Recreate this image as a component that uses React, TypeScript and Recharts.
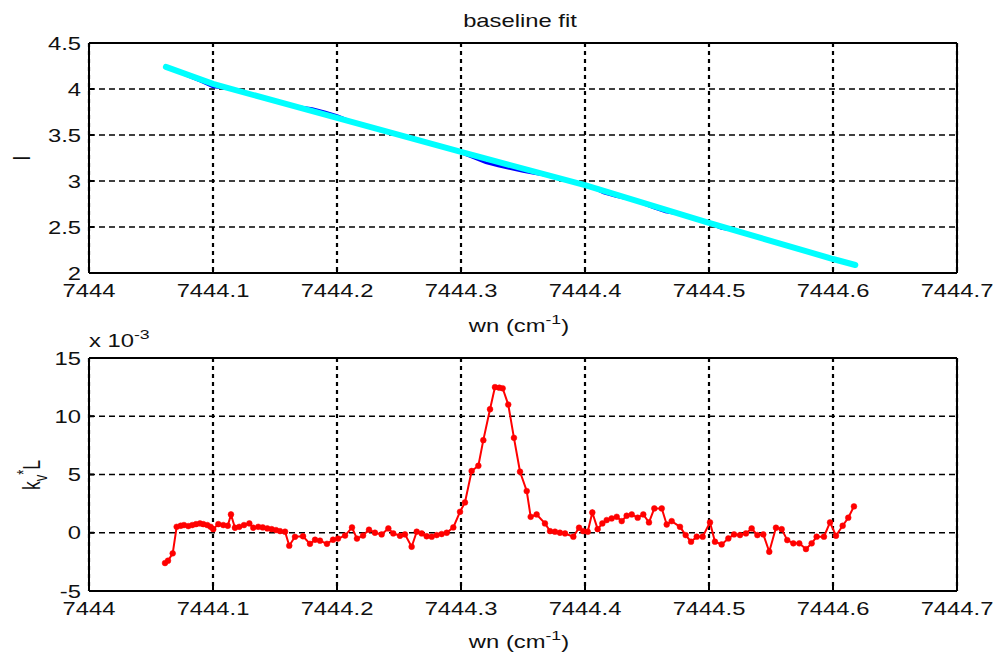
import { LineChart, Line, XAxis, YAxis, CartesianGrid } from "recharts";

// x axis (wavenumber) ticks shared by both panels
const wnTicks = [7444, 7444.1, 7444.2, 7444.3, 7444.4, 7444.5, 7444.6, 7444.7];
const iTicks = [2, 2.5, 3, 3.5, 4, 4.5];
const kTicks = [-5, 0, 5, 10, 15];

// top panel: baseline fit (cyan)
const fitWn = [7444.062, 7444.1, 7444.2, 7444.3, 7444.4, 7444.5, 7444.6, 7444.618];
const fitI = [4.24, 4.055, 3.685, 3.316, 2.955, 2.546, 2.152, 2.087];

// top panel: measured intensity (blue)
const measWn = [
  7444.062, 7444.07, 7444.08, 7444.09, 7444.1, 7444.11, 7444.13, 7444.15, 7444.17, 7444.18,
  7444.19, 7444.2, 7444.21, 7444.24, 7444.27, 7444.295, 7444.31, 7444.32, 7444.33, 7444.34,
  7444.35, 7444.36, 7444.37, 7444.39, 7444.405, 7444.415, 7444.425, 7444.44, 7444.455, 7444.465,
  7444.475, 7444.495, 7444.51, 7444.52, 7444.55, 7444.58, 7444.6, 7444.618,
];
const measI = [
  4.25, 4.2, 4.14, 4.085, 4.025, 4.01, 3.945, 3.87, 3.805, 3.785,
  3.75, 3.71, 3.655, 3.537, 3.427, 3.334, 3.255, 3.2, 3.165, 3.135,
  3.105, 3.08, 3.06, 2.99, 2.935, 2.87, 2.835, 2.79, 2.71, 2.665,
  2.645, 2.566, 2.485, 2.465, 2.349, 2.23, 2.152, 2.087,
];

// bottom panel: k_v*L (x 10^-3)
const kWn = [
  7444.0613, 7444.0637, 7444.0675, 7444.0707, 7444.074, 7444.0766, 7444.0801, 7444.0833, 7444.0863, 7444.0895,
  7444.0922, 7444.0954, 7444.0981, 7444.1002, 7444.1043, 7444.1083, 7444.1119, 7444.1145, 7444.1177, 7444.1212,
  7444.125, 7444.1293, 7444.1325, 7444.1365, 7444.1401, 7444.1438, 7444.1473, 7444.1508, 7444.154, 7444.1581,
  7444.1615, 7444.1661, 7444.1726, 7444.1782, 7444.1823, 7444.1863, 7444.1919, 7444.1968, 7444.2008, 7444.2065,
  7444.2121, 7444.2161, 7444.221, 7444.2258, 7444.2306, 7444.236, 7444.2414, 7444.2454, 7444.2508, 7444.2548,
  7444.2602, 7444.2643, 7444.2683, 7444.2723, 7444.2764, 7444.2804, 7444.2844, 7444.2885, 7444.2938, 7444.2992,
  7444.3032, 7444.3086, 7444.314, 7444.318, 7444.3234, 7444.3274, 7444.3309, 7444.3336, 7444.3381, 7444.3427,
  7444.3476, 7444.353, 7444.3562, 7444.361, 7444.3677, 7444.3718, 7444.3758, 7444.3798, 7444.3839, 7444.3906,
  7444.3952, 7444.3986, 7444.4022, 7444.4059, 7444.4102, 7444.414, 7444.4175, 7444.4215, 7444.4256, 7444.4296,
  7444.4336, 7444.4377, 7444.4425, 7444.447, 7444.4516, 7444.4559, 7444.4619, 7444.4659, 7444.4699, 7444.4766,
  7444.4812, 7444.4855, 7444.4901, 7444.4949, 7444.5008, 7444.5048, 7444.5102, 7444.5156, 7444.5202, 7444.525,
  7444.5298, 7444.5344, 7444.539, 7444.5438, 7444.5486, 7444.554, 7444.5586, 7444.5631, 7444.568, 7444.5728,
  7444.5782, 7444.5828, 7444.5868, 7444.5927, 7444.5976, 7444.6024, 7444.6078, 7444.6123, 7444.6169,
];
const kL = [
  -2.6, -2.4, -1.77, 0.51, 0.6, 0.66, 0.57, 0.66, 0.74, 0.8,
  0.74, 0.66, 0.51, 0.31, 0.74, 0.66, 0.6, 1.57, 0.43, 0.51,
  0.66, 0.8, 0.43, 0.51, 0.46, 0.37, 0.31, 0.23, 0.14, 0.09,
  -1.11, -0.35, -0.3, -0.95, -0.6, -0.68, -0.95, -0.6, -0.5, -0.24,
  0.45, -0.5, -0.24, 0.26, 0.0, -0.14, 0.37, -0.06, -0.26, -0.14,
  -1.2, 0.09, -0.06, -0.3, -0.34, -0.2, -0.11, 0.0, 0.46, 1.8,
  2.6, 5.3, 5.75, 7.95, 10.6, 12.5, 12.45, 12.4, 11.0, 8.15,
  5.24, 3.58, 1.37, 1.57, 0.8, 0.14, 0.09, 0.0, -0.06, -0.34,
  0.43, 0.14, 0.09, 1.74, 0.31, 0.8, 1.09, 1.23, 1.37, 1.0,
  1.46, 1.57, 1.29, 1.57, 0.89, 2.09, 2.09, 0.71, 1.0, 0.51,
  -0.2, -0.77, -0.34, -0.34, 0.89, -0.77, -1.0, -0.49, -0.14, -0.2,
  -0.06, 0.37, -0.2, -0.14, -1.63, 0.43, 0.31, -0.63, -0.91, -0.91,
  -1.4, -0.91, -0.34, -0.34, 0.89, -0.26, 0.6, 1.29, 2.26,
];

const fitData = fitWn.map((wn, i) => ({ wn, I: fitI[i] }));
const measData = measWn.map((wn, i) => ({ wn, I: measI[i] }));
const kData = kWn.map((wn, i) => ({ wn, k: kL[i] }));

// the reference bitmap is stretched horizontally
const SX = 1.36;
const FONT = "'Liberation Sans', Arial, sans-serif";
const FS = 17.5;

function XTick({ x, y, payload }: any) {
  return (
    <g transform={`translate(${x},${y + 24})`}>
      <text transform={`scale(${SX},1)`} textAnchor="middle" fontFamily={FONT} fontSize={FS} fill="#111">
        {payload.value}
      </text>
    </g>
  );
}

function YTick({ x, y, payload }: any) {
  return (
    <g transform={`translate(${x - 8},${y + 6.5})`}>
      <text transform={`scale(${SX},1)`} textAnchor="end" fontFamily={FONT} fontSize={FS} fill="#111">
        {payload.value}
      </text>
    </g>
  );
}

function Panel({
  height,
  top,
  bottom,
  yDomain,
  yTicks,
  children,
}: {
  height: number;
  top: number;
  bottom: number;
  yDomain: [number, number];
  yTicks: number[];
  children: any;
}) {
  const axisStroke = { stroke: "#000", strokeWidth: 2 };
  return (
    <LineChart width={999} height={height} margin={{ top: top - 1, right: 41, left: 29, bottom }}>
      <CartesianGrid vertical={false} stroke="#000" strokeDasharray="6 4" strokeWidth={1.5} horizontalValues={yTicks} />
      <CartesianGrid horizontal={false} stroke="#000" strokeDasharray="4 4" strokeWidth={2.2} verticalValues={wnTicks} />
      <XAxis
        dataKey="wn"
        type="number"
        domain={[7444, 7444.7]}
        ticks={wnTicks}
        allowDataOverflow
        height={40}
        tickSize={-5}
        tickMargin={5}
        tick={<XTick />}
        axisLine={axisStroke}
        tickLine={axisStroke}
        allowDuplicatedCategory={false}
      />
      <XAxis
        xAxisId="top"
        orientation="top"
        type="number"
        domain={[7444, 7444.7]}
        ticks={wnTicks}
        height={1}
        tickSize={-5}
        tick={false}
        axisLine={axisStroke}
        tickLine={axisStroke}
      />
      <YAxis
        type="number"
        domain={yDomain}
        ticks={yTicks}
        allowDataOverflow
        width={60}
        tickSize={-5}
        tickMargin={5}
        tick={<YTick />}
        axisLine={axisStroke}
        tickLine={axisStroke}
      />
      <YAxis
        yAxisId="right"
        orientation="right"
        type="number"
        domain={yDomain}
        ticks={yTicks}
        width={1}
        tickSize={-5}
        tick={false}
        axisLine={axisStroke}
        tickLine={axisStroke}
      />
      {children}
    </LineChart>
  );
}

export default function App() {
  const txt = { fontFamily: FONT, fontSize: FS, fill: "#111" };
  return (
    <div style={{ position: "absolute", left: 0, top: 0, width: 999, height: 659, background: "#fff" }}>
      <div style={{ position: "absolute", left: 0, top: 0 }}>
        <Panel height={330} top={43} bottom={17} yDomain={[2, 4.5]} yTicks={iTicks}>
          <Line data={measData} dataKey="I" type="linear" stroke="#0000ff" strokeWidth={3} dot={false} isAnimationActive={false} />
          <Line data={fitData} dataKey="I" type="linear" stroke="#00ffff" strokeWidth={6} strokeLinecap="round" dot={false} isAnimationActive={false} />
        </Panel>
      </div>
      <div style={{ position: "absolute", left: 0, top: 330 }}>
        <Panel height={329} top={28} bottom={28} yDomain={[-5, 15]} yTicks={kTicks}>
          <Line
            data={kData}
            dataKey="k"
            type="linear"
            stroke="#ff0000"
            strokeWidth={2}
            dot={{ r: 2.9, fill: "#ff0000", stroke: "#ff0000", strokeWidth: 0.5 }}
            isAnimationActive={false}
          />
        </Panel>
      </div>
      <svg width={999} height={659} style={{ position: "absolute", left: 0, top: 0, pointerEvents: "none" }}>
        <g transform="translate(520,27)">
          <text transform={`scale(${SX},1)`} textAnchor="middle" {...txt}>baseline fit</text>
        </g>
        <g transform={`translate(30,158) scale(${SX},1) rotate(-90)`}>
          <text textAnchor="middle" {...txt}>I</text>
        </g>
        <g transform="translate(519,332)">
          <text transform={`scale(${SX},1)`} textAnchor="middle" {...txt}>
            wn (cm<tspan fontSize={13} dy={-8}>-1</tspan><tspan dy={8}>)</tspan>
          </text>
        </g>
        <g transform="translate(519,648)">
          <text transform={`scale(${SX},1)`} textAnchor="middle" {...txt}>
            wn (cm<tspan fontSize={13} dy={-8}>-1</tspan><tspan dy={8}>)</tspan>
          </text>
        </g>
        <g transform="translate(89,347)">
          <text transform={`scale(${SX},1)`} textAnchor="start" {...txt}>
            x 10<tspan fontSize={13} dy={-8}>-3</tspan>
          </text>
        </g>
        <g transform={`translate(40,475) scale(${SX},1) rotate(-90)`}>
          <text textAnchor="middle" {...txt}>
            k<tspan fontSize={13} dy={5}>v</tspan>
            <tspan fontSize={13} dy={-12}>*</tspan>
            <tspan dy={7}>L</tspan>
          </text>
        </g>
      </svg>
    </div>
  );
}
